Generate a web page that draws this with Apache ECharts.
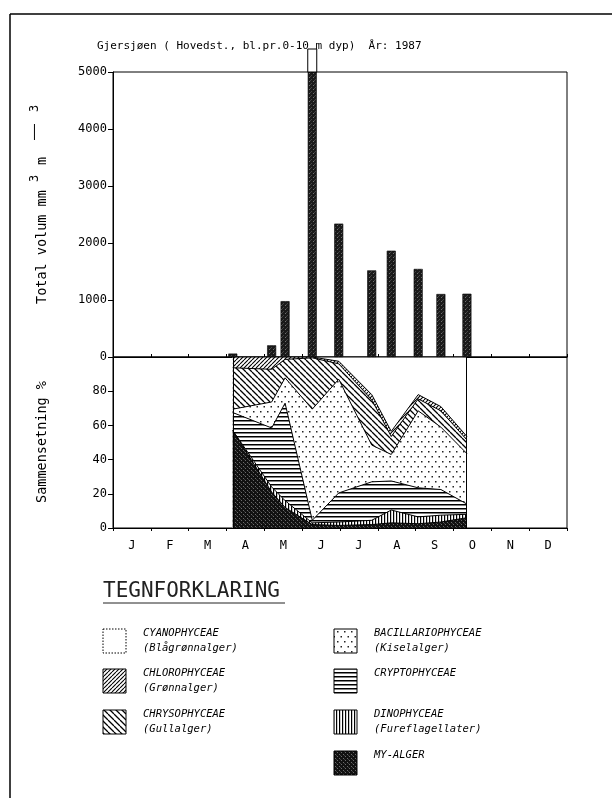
<!DOCTYPE html>
<html><head><meta charset="utf-8">
<script src="https://cdn.jsdelivr.net/npm/echarts@6/dist/echarts.min.js"></script>
<style>html,body{margin:0;padding:0;background:#fff}#c{width:612px;height:798px}</style>
</head><body><div id="c"></div>
<script>
// ---------- data ----------
const monthNames = ['Jan','Feb','Mar','Apr','May','Jun','Jul','Aug','Sep','Oct','Nov','Dec'];
const sampleDates = ['1987-04-06','1987-05-07','1987-05-18','1987-06-09','1987-06-30','1987-07-27','1987-08-12','1987-09-03','1987-09-21','1987-10-12'];
const totalVolume = [60, 205, 980, 5600, 2340, 1520, 1865, 1545, 1105, 1110]; // mm3 m-3 (June value off scale)
const myAlger          = [57, 21, 12, 2, 1.5, 2, 3, 2.5, 3.5, 6];
const dinophyceae      = [0, 3, 4, 1, 2, 2.5, 7.5, 4, 4, 2];
const cryptophyceae    = [10.5, 34.5, 57, 1.5, 17, 22.5, 17, 17, 15, 6];
const bacillariophyceae= [2, 15.2, 14.8, 65, 66.5, 21.5, 15.5, 45, 36.5, 29.5];
const chrysophyceae    = [24.2, 19.1, 10.8, 30, 9, 26.5, 10.5, 7, 9.5, 8];
const chlorophyceae    = [6.3, 7.2, 1.4, 0.5, 1.5, 3, 3, 2.5, 2.5, 2];
const cyanophyceae     = [0, 0, 0, 0, 2.5, 22, 43.5, 22, 29, 46.5];
const volumeMax = 5000, volumeStep = 1000;
const pctMax = 100, pctStep = 20;

// ---------- helpers ----------
function toMonth(s){const [y,m,d]=s.split('-').map(Number);const dim=new Date(y,m,0).getDate();return (m-1)+(d-1)/dim;}
const xs = sampleDates.map(toMonth);
const MONO = '"DejaVu Sans Mono", "Liberation Mono", monospace';

function pat(w,h,draw,bg){const c=document.createElement('canvas');c.width=w;c.height=h;const g=c.getContext('2d');g.fillStyle=bg||'#fff';g.fillRect(0,0,w,h);draw(g,w,h);return {image:c,repeat:'repeat'};}
const P = {
  cyano: '#ffffff',
  chloro: pat(4,4,g=>{g.strokeStyle='#000';g.lineWidth=1.1;g.beginPath();for(let k=-4;k<=8;k+=4){g.moveTo(k,4);g.lineTo(k+4,0);}g.stroke();}),
  chryso: pat(6,6,g=>{g.strokeStyle='#000';g.lineWidth=1.3;g.beginPath();for(let k=-6;k<=12;k+=6){g.moveTo(k,0);g.lineTo(k+6,6);}g.stroke();}),
  bacil: pat(7,10,g=>{g.fillStyle='#222';g.fillRect(1,1,1.5,1.5);g.fillRect(4.5,6,1.5,1.5);}),
  crypto: pat(4,4,g=>{g.fillStyle='#000';g.fillRect(0,0,4,1.5);}),
  dino: pat(3,3,g=>{g.fillStyle='#000';g.fillRect(0,0,1.2,3);}),
  my: pat(4,4,g=>{g.fillStyle='#111';g.fillRect(0,0,4,4);g.fillStyle='#6a6a6a';g.fillRect(1,0,1,1);g.fillRect(3,2,1,1);g.fillStyle='#3a3a3a';g.fillRect(0,3,1,1);}),
  bar: pat(4,4,g=>{g.fillStyle='#1a1a1a';g.fillRect(0,0,4,4);g.fillStyle='#707070';g.fillRect(1,1,1,1);g.fillStyle='#444';g.fillRect(3,3,1,1);g.fillRect(2,0,1,1);})
};

// bottom-to-top layer order
const layers = [
  {name:'MY-ALGER', data:myAlger, fill:P.my},
  {name:'DINOPHYCEAE', data:dinophyceae, fill:P.dino},
  {name:'CRYPTOPHYCEAE', data:cryptophyceae, fill:P.crypto},
  {name:'BACILLARIOPHYCEAE', data:bacillariophyceae, fill:P.bacil},
  {name:'CHRYSOPHYCEAE', data:chrysophyceae, fill:P.chryso},
  {name:'CHLOROPHYCEAE', data:chlorophyceae, fill:P.chloro},
  {name:'CYANOPHYCEAE', data:cyanophyceae, fill:P.cyano}
];
// cumulative tops (stacking done here; areas drawn top layer first, lower layers painted over)
let running = xs.map(()=>0);
layers.forEach(L=>{ running = running.map((v,i)=>v+L.data[i]); L.cum = running.slice(); });

const chart = echarts.init(document.getElementById('c'), null, {renderer:'canvas'});
const axisLineBlack = {show:true, lineStyle:{color:'#000', width:1}};

const series = [
  {type:'bar', xAxisIndex:0, yAxisIndex:0, data: xs.map((x,i)=>[x,totalVolume[i]]), barWidth:9, clip:true,
   itemStyle:{color:P.bar, borderColor:'#000', borderWidth:0.6}, z:3},
  {type:'custom', xAxisIndex:0, yAxisIndex:0, clip:false, z:4, data: xs.map((x,i)=>[x,totalVolume[i]]),
   renderItem:(params, api)=>{
     if(api.value(1) <= volumeMax) return null;
     const p = api.coord([api.value(0), volumeMax]);
     return {type:'rect', shape:{x:p[0]-4.5, y:p[1]-23, width:9, height:23}, style:{fill:'#fff', stroke:'#000', lineWidth:1}};
   }}
];
for(let k=layers.length-1;k>=0;k--){
  const L = layers[k];
  const s = {type:'line', name:L.name, xAxisIndex:1, yAxisIndex:1, symbol:'none',
    data: xs.map((x,i)=>[x, L.cum[i]]), lineStyle:{color:'#000', width:1},
    areaStyle:{color:L.fill, opacity:1, origin:'start'}, z:2+(layers.length-k)*0.01};
  if(k===0){
    s.markLine = {symbol:'none', silent:true, label:{show:false}, lineStyle:{color:'#000', type:'solid', width:1},
      data:[{xAxis:xs[0]},{xAxis:xs[xs.length-1]}]};
  }
  series.push(s);
}

// legend graphic
const legendItems = [
  {name:'CYANOPHYCEAE', sub:'(Blågrønnalger)', fill:P.cyano, col:0, row:0, dotted:true},
  {name:'CHLOROPHYCEAE', sub:'(Grønnalger)', fill:P.chloro, col:0, row:1},
  {name:'CHRYSOPHYCEAE', sub:'(Gullalger)', fill:P.chryso, col:0, row:2},
  {name:'BACILLARIOPHYCEAE', sub:'(Kiselalger)', fill:P.bacil, col:1, row:0},
  {name:'CRYPTOPHYCEAE', sub:'', fill:P.crypto, col:1, row:1},
  {name:'DINOPHYCEAE', sub:'(Fureflagellater)', fill:P.dino, col:1, row:2},
  {name:'MY-ALGER', sub:'', fill:P.my, col:1, row:3}
];
const colX = [103, 334], rowY = [629, 669, 710, 751];
const rot = Math.PI/2;
const tStyle = (text, size, extra) => Object.assign({text, fontFamily:MONO, fontSize:size, fill:'#000', verticalAlign:'middle', align:'left'}, extra||{});
const graphics = [
  {type:'line', shape:{x1:10,y1:14,x2:612,y2:14}, style:{stroke:'#000', lineWidth:1.5}},
  {type:'line', shape:{x1:10,y1:14,x2:10,y2:798}, style:{stroke:'#000', lineWidth:1.5}},
  {type:'text', x:97, y:46, style:tStyle('Gjersjøen ( Hovedst., bl.pr.0-10 m dyp)  År: 1987', 11)},
  {type:'text', x:42, y:304, rotation:rot, style:tStyle('Total volum mm', 13.5)},
  {type:'text', x:35, y:182, rotation:rot, style:tStyle('3', 12)},
  {type:'text', x:42, y:165, rotation:rot, style:tStyle('m', 13.5)},
  {type:'text', x:35, y:142, rotation:rot, scaleX:2.6, style:tStyle('−', 12)},
  {type:'text', x:35, y:112, rotation:rot, style:tStyle('3', 12)},
  {type:'text', x:42, y:442, rotation:rot, style:tStyle('Sammensetning %', 13.5, {align:'center'})},
  {type:'text', x:103, y:592, style:tStyle('TEGNFORKLARING', 21, {fill:'#222'})},
  {type:'line', shape:{x1:103,y1:603,x2:285,y2:603}, style:{stroke:'#222', lineWidth:1}}
];
legendItems.forEach(it=>{
  const bx = colX[it.col], by = rowY[it.row];
  graphics.push({type:'rect', shape:{x:bx, y:by, width:23, height:24},
    style:{fill:it.fill, stroke:'#000', lineWidth:1, lineDash: it.dotted ? [1.5,1.5] : null}});
  graphics.push({type:'text', x:bx+40, y:by+4, style:tStyle(it.name, 10.5, {fontStyle:'italic'})});
  if(it.sub) graphics.push({type:'text', x:bx+40, y:by+19, style:tStyle(it.sub, 10.5, {fontStyle:'italic'})});
});

const plainNum = v => String(v);
const option = {
  animation:false,
  backgroundColor:'#fff',
  grid:[
    {left:113, top:72, width:454, height:285, show:true, borderColor:'#000', borderWidth:1},
    {left:113, top:357, width:454, height:171, show:true, borderColor:'#000', borderWidth:1}
  ],
  xAxis:[
    {gridIndex:0, type:'value', min:0, max:12, interval:1, position:'top', axisLine:axisLineBlack,
     axisTick:{show:true, inside:false, length:3, lineStyle:{color:'#000'}}, axisLabel:{show:false}, splitLine:{show:false}},
    {gridIndex:1, type:'value', min:0, max:12, interval:1, position:'bottom', axisLine:axisLineBlack,
     axisTick:{show:true, inside:false, length:3, lineStyle:{color:'#000'}}, axisLabel:{show:false}, splitLine:{show:false}},
    {gridIndex:1, type:'category', data:monthNames, position:'bottom', boundaryGap:true, axisLine:{show:false}, axisTick:{show:false},
     axisLabel:{formatter:v=>v.charAt(0).toUpperCase(), fontFamily:MONO, fontSize:12, color:'#000', margin:12}, splitLine:{show:false}}
  ],
  yAxis:[
    {gridIndex:0, type:'value', min:0, max:volumeMax, interval:volumeStep, axisLine:axisLineBlack,
     axisTick:{show:true, inside:false, length:5, lineStyle:{color:'#000'}},
     axisLabel:{fontFamily:MONO, fontSize:12, color:'#000', margin:6, formatter:plainNum}, splitLine:{show:false}},
    {gridIndex:1, type:'value', min:0, max:pctMax, interval:pctStep, axisLine:axisLineBlack,
     axisTick:{show:true, inside:false, length:5, lineStyle:{color:'#000'}},
     axisLabel:{fontFamily:MONO, fontSize:12, color:'#000', margin:6, showMaxLabel:false, formatter:plainNum}, splitLine:{show:false}}
  ],
  series: series,
  graphic: graphics
};
chart.setOption(option);
</script>
</body></html>
